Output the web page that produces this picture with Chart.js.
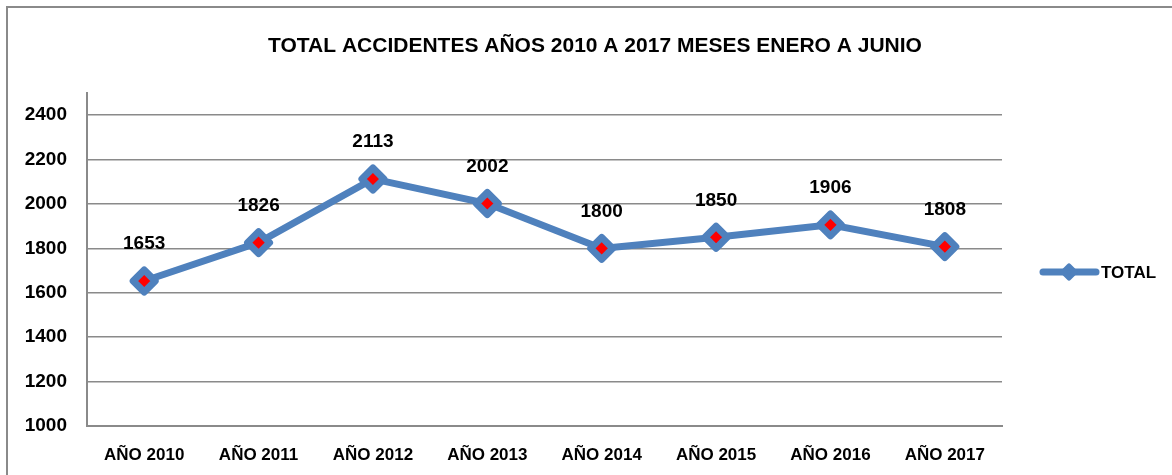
<!DOCTYPE html>
<html>
<head>
<meta charset="utf-8">
<script src="https://cdn.jsdelivr.net/npm/chart.js@4.4.1/dist/chart.umd.min.js"></script>
<style>
  html, body { margin: 0; padding: 0; background: #fff; }
  #wrap { width: 1172px; height: 475px; }
</style>
</head>
<body>
<div id="wrap"><canvas id="accidentChart" width="1172" height="475"></canvas></div>
<script>
var chartTitle = "TOTAL ACCIDENTES AÑOS 2010 A 2017 MESES ENERO A JUNIO";
var seriesName = "TOTAL";
var years = ["AÑO 2010", "AÑO 2011", "AÑO 2012", "AÑO 2013", "AÑO 2014", "AÑO 2015", "AÑO 2016", "AÑO 2017"];
var totals = [1653, 1826, 2113, 2002, 1800, 1850, 1906, 1808];
var yTicks = [1000, 1200, 1400, 1600, 1800, 2000, 2200, 2400];

var blue = "#4F81BD";
var grey = "#8A8A8A";
var fontFam = '"Liberation Sans", Arial, sans-serif';

// frame, title, value labels and legend
var decor = {
  id: 'decor',
  beforeDraw: function(chart) {
    var ctx = chart.ctx;
    ctx.save();
    ctx.strokeStyle = grey;
    ctx.lineWidth = 2;
    ctx.strokeRect(7, 7, 1190, 500);
    ctx.restore();
  },
  beforeDatasetsDraw: function(chart) {
    chart.ctx.lineJoin = 'round';
  },
  afterDatasetsDraw: function(chart) {
    var ctx = chart.ctx;
    ctx.lineJoin = 'miter';
    var meta = chart.getDatasetMeta(0);
    ctx.save();
    ctx.fillStyle = "#000";
    ctx.font = "bold 19px " + fontFam;
    ctx.textAlign = "center";
    ctx.textBaseline = "middle";
    meta.data.forEach(function(pt, i) {
      ctx.fillText(String(totals[i]), pt.x, pt.y - 37);
    });
    ctx.restore();
  },
  afterDraw: function(chart) {
    var ctx = chart.ctx;
    ctx.save();
    ctx.fillStyle = "#000";
    ctx.font = "bold 21px " + fontFam;
    ctx.textAlign = "center";
    ctx.textBaseline = "middle";
    ctx.fillText(chartTitle, 595, 46);

    // legend
    var ly = 272;
    ctx.strokeStyle = blue;
    ctx.lineWidth = 7;
    ctx.lineCap = "round";
    ctx.beginPath();
    ctx.moveTo(1043, ly);
    ctx.lineTo(1096, ly);
    ctx.stroke();
    ctx.lineJoin = "round";
    ctx.fillStyle = blue;
    ctx.lineWidth = 5;
    ctx.beginPath();
    ctx.moveTo(1069 - 6, ly);
    ctx.lineTo(1069, ly - 6);
    ctx.lineTo(1069 + 6, ly);
    ctx.lineTo(1069, ly + 6);
    ctx.closePath();
    ctx.fill();
    ctx.stroke();
    ctx.fillStyle = "#000";
    ctx.font = "bold 17px " + fontFam;
    ctx.textAlign = "left";
    ctx.fillText(seriesName, 1101, ly + 1);
    ctx.restore();
  }
};

var chartCanvas = document.getElementById("accidentChart");
if (chartCanvas) {
  var accidentChart = new Chart(chartCanvas, {
    type: 'line',
    data: {
      labels: years,
      datasets: [{
        label: seriesName,
        data: totals,
        borderColor: blue,
        borderWidth: 7,
        tension: 0,
        pointStyle: 'rectRot',
        pointRadius: 11,
        pointHoverRadius: 11,
        pointBackgroundColor: "#FF0000",
        pointBorderColor: blue,
        pointBorderWidth: 7
      }]
    },
    plugins: [decor],
    options: {
      responsive: false,
      animation: false,
      events: [],
      layout: {
        padding: { top: 93, right: 170, bottom: 0, left: 0 }
      },
      plugins: {
        legend: { display: false },
        title: { display: false },
        tooltip: { enabled: false }
      },
      scales: {
        x: {
          offset: true,
          grid: { display: false, drawTicks: false },
          border: { display: true, color: grey, width: 2 },
          ticks: {
            color: "#000",
            padding: 19,
            font: { family: fontFam, size: 17, weight: 'bold' }
          },
          afterFit: function(scale) { scale.height = 49; }
        },
        y: {
          min: 1000,
          max: 2500,
          grid: { color: grey, lineWidth: 1.5, drawTicks: false },
          border: { display: true, color: grey, width: 2 },
          ticks: {
            color: "#000",
            padding: 20,
            font: { family: fontFam, size: 19, weight: 'bold' },
            callback: function(value) { return String(value); }
          },
          afterBuildTicks: function(axis) {
            axis.ticks = yTicks.map(function(v) { return { value: v }; });
          },
          afterFit: function(scale) { scale.width = 87; }
        }
      }
    }
  });
}
</script>
</body>
</html>
